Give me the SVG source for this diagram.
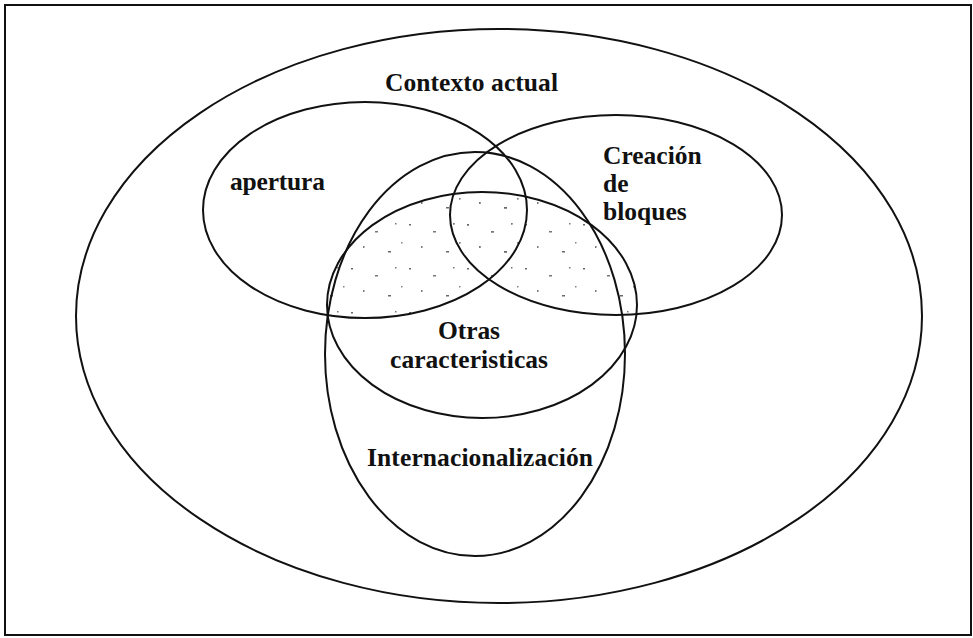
<svg xmlns="http://www.w3.org/2000/svg" width="973" height="638" viewBox="0 0 973 638">
<style>
.ring{fill:none;stroke:#111;stroke-width:2}
.lbl{font-family:"Liberation Serif","Times New Roman",serif;font-weight:bold;font-size:25.5px;fill:#111}
</style>
<defs>
<pattern id="specks" width="58" height="44" patternUnits="userSpaceOnUse">
<rect x="3" y="4" width="2" height="1.5" fill="#444"/>
<rect x="27" y="11" width="3" height="1.5" fill="#555"/>
<rect x="47" y="3" width="1.5" height="1.5" fill="#555"/>
<rect x="15" y="26" width="1.5" height="2" fill="#555"/>
<rect x="40" y="31" width="3" height="1.5" fill="#444"/>
<rect x="53" y="22" width="1.5" height="1.5" fill="#666"/>
</pattern>
<clipPath id="clipOtras"><ellipse cx="482" cy="305" rx="155" ry="113"/></clipPath>
</defs>
<rect x="0" y="0" width="973" height="638" fill="#fff"/>
<rect x="5" y="5" width="966" height="630" fill="none" stroke="#111" stroke-width="2"/>
<g id="contexto-actual">
<ellipse class="ring" cx="499" cy="316" rx="423" ry="287"/>
<text class="lbl" x="385" y="91" textLength="173" lengthAdjust="spacing">Contexto actual</text>
</g>
<g id="shading" clip-path="url(#clipOtras)" opacity="0.8">
<ellipse cx="365" cy="210" rx="162" ry="108" fill="url(#specks)"/>
<ellipse cx="616" cy="215" rx="166" ry="100" fill="url(#specks)"/>
</g>
<g id="apertura">
<ellipse class="ring" cx="365" cy="210" rx="162" ry="108"/>
<text class="lbl" x="230" y="190" textLength="95" lengthAdjust="spacing">apertura</text>
</g>
<g id="creacion-de-bloques">
<ellipse class="ring" cx="616" cy="215" rx="166" ry="100"/>
<text class="lbl" x="603" y="164">Creación</text>
<text class="lbl" x="603" y="192">de</text>
<text class="lbl" x="603" y="220">bloques</text>
</g>
<g id="internacionalizacion">
<ellipse class="ring" cx="475" cy="354" rx="150" ry="202"/>
<text class="lbl" x="367" y="466" textLength="226" lengthAdjust="spacing">Internacionalización</text>
</g>
<g id="otras-caracteristicas">
<ellipse class="ring" cx="482" cy="305" rx="155" ry="113" stroke-width="2.5"/>
<text class="lbl" x="438" y="339" textLength="62" lengthAdjust="spacing">Otras</text>
<text class="lbl" x="390" y="368" textLength="158" lengthAdjust="spacing">caracteristicas</text>
</g>
</svg>
